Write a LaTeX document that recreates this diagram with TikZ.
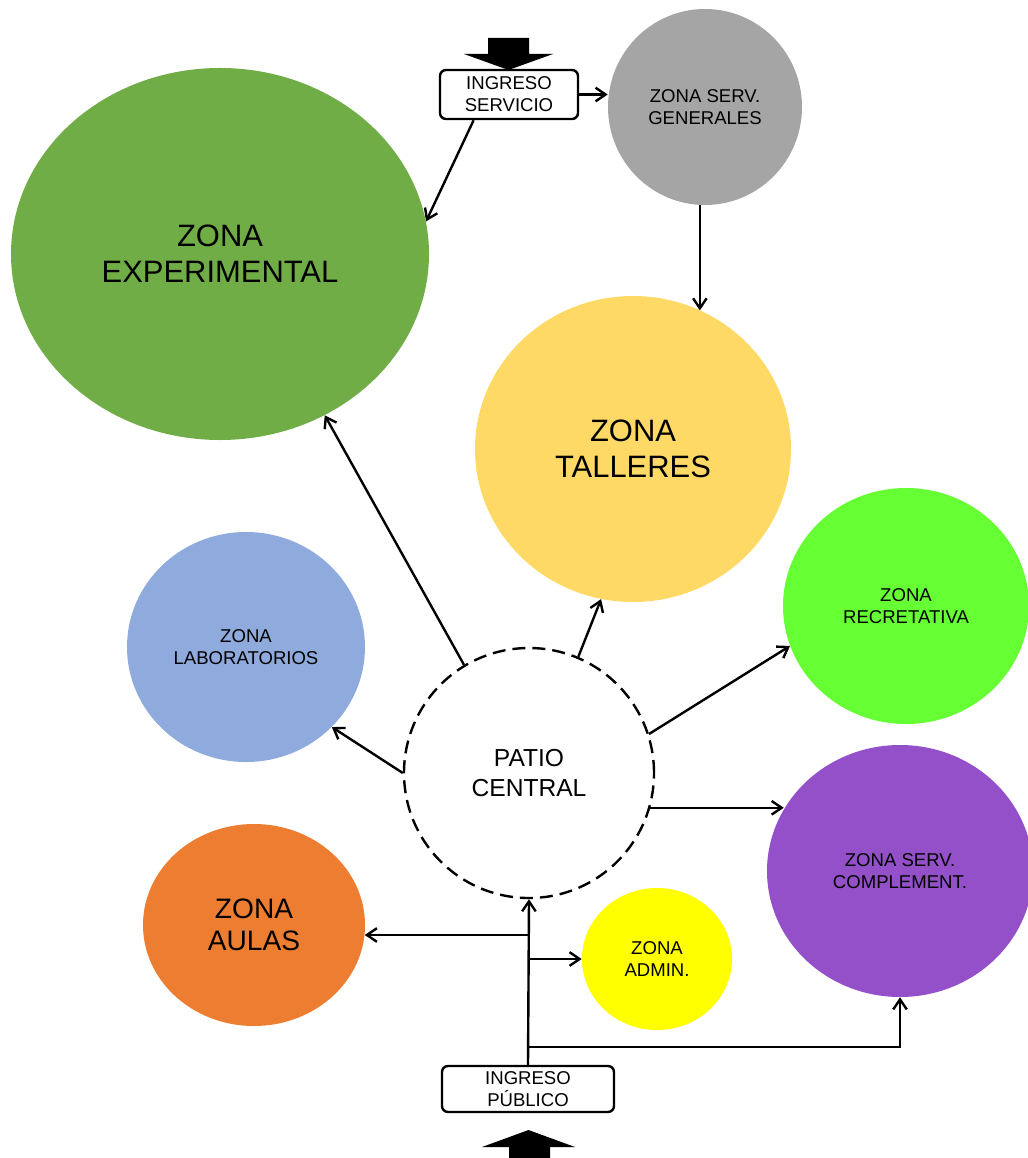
\documentclass[tikz,border=0pt]{standalone}
\usepackage{fontspec}
\setmainfont{Liberation Sans}
\usetikzlibrary{shapes.geometric,arrows.meta}
\definecolor{verde}{HTML}{70AD47}
\definecolor{gris}{HTML}{A5A5A5}
\definecolor{amarillo}{HTML}{FFD966}
\definecolor{celeste}{HTML}{8FAADC}
\definecolor{limon}{HTML}{66FF33}
\definecolor{morado}{HTML}{9350C8}
\definecolor{naranja}{HTML}{ED7D31}
\definecolor{admin}{HTML}{FFFF00}

\begin{document}
\begin{tikzpicture}[x=0.25mm,y=-0.25mm,
    zona/.style={ellipse,inner sep=0pt,align=center},
    chica/.style={font=\fontsize{13.2}{15.6}\selectfont},
    grande/.style={font=\fontsize{22}{25.6}\selectfont},
    ingreso/.style={draw,rounded corners=1.5mm,line width=0.6mm,inner sep=0pt,align=center,font=\fontsize{13.2}{15.6}\selectfont},
    flecha/.style={line width=0.6mm,-{Straight Barb[length=2.5mm,width=3.4mm]}}]
    \useasboundingbox (0,0) rectangle (1027,1158);
    \node[zona,fill=verde,minimum width=104.5mm,minimum height=93mm,grande] (exp) at (220,254) {ZONA\\EXPERIMENTAL};
    \node[zona,fill=gris,minimum width=48.5mm,minimum height=49mm,chica] (gen) at (705,107) {ZONA SERV.\\GENERALES};
    \node[zona,fill=amarillo,minimum width=79mm,minimum height=76.5mm,grande] (talleres) at (633,449) {ZONA\\TALLERES};
    \node[zona,fill=celeste,minimum width=59.5mm,minimum height=57.5mm,chica] (labs) at (246,647) {ZONA\\LABORATORIOS};
    \node[zona,fill=limon,minimum width=61.5mm,minimum height=59mm,chica] (recre) at (906,606) {ZONA\\RECRETATIVA};
    \node[zona,fill=morado,minimum width=66.5mm,minimum height=63mm,chica] (compl) at (900,871) {ZONA SERV.\\COMPLEMENT.};
    \node[zona,fill=naranja,minimum width=55.5mm,minimum height=50.5mm,font=\fontsize{20}{22.8}\selectfont] (aulas) at (254,925) {ZONA\\AULAS};
    \node[zona,fill=admin,minimum width=37.5mm,minimum height=35.5mm,chica] (admin) at (657,959) {ZONA\\ADMIN.};
    \node[circle,draw,line width=0.6mm,dash pattern=on 3.25mm off 1.75mm,minimum size=62.5mm,align=center,
        font=\fontsize{17.5}{21}\selectfont] (patio) at (529,773) {PATIO\\CENTRAL};

    \node[ingreso,minimum width=34.5mm,minimum height=12.25mm] (iserv) at (509,94.5) {INGRESO\\SERVICIO};
    \node[ingreso,minimum width=43mm,minimum height=11.5mm] (ipub) at (528,1089) {INGRESO\\PÚBLICO};

    % flechas de acceso
    \fill (488,38) -- (529,38) -- (529,54) -- (553,54) -- (508.5,70) -- (464,54) -- (488,54) -- cycle;
    \fill (528.5,1130) -- (575,1147) -- (550,1147) -- (550,1165) -- (509,1165) -- (509,1147) -- (482,1147) -- cycle;

    \draw[flecha] (iserv.east) -- (gen.west |- iserv.east);
    \draw[flecha] (iserv.216) -- (exp.9);
    \draw[flecha] (gen.-93) -- (gen.-93 |- talleres.64);

    \draw[flecha] (patio.121) -- (exp.-57);
    \draw[flecha] (patio.67) -- (talleres.-102);
    \draw[flecha] (patio.18) -- (recre.199);
    \draw[flecha] (patio.-16) -- (compl.152 |- patio.-16);
    \draw[flecha] (patio.west) -- (labs.-43);

    \coordinate (jaulas) at (528,935);
    \coordinate (jadmin) at (528,959);
    \coordinate (jcompl) at (528,1047);
    \draw[flecha] (ipub.north) -- (patio.south);
    \draw[flecha] (jaulas) -- (jaulas -| aulas.-5);
    \draw[flecha] (jadmin) -- (admin.west);
    \draw[flecha] (jcompl) -| (compl.south);
\end{tikzpicture}
\end{document}
